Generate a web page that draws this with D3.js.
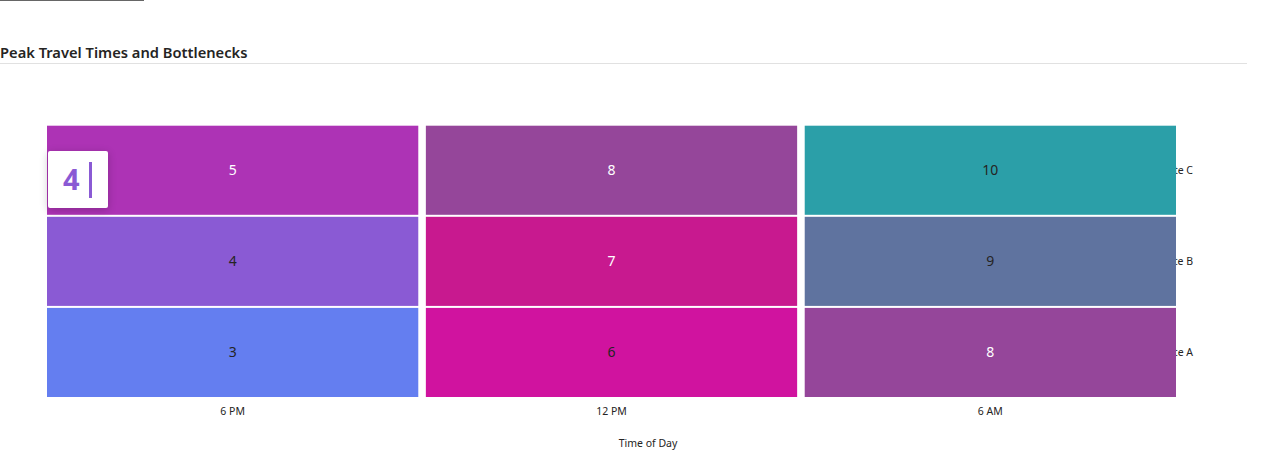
<!DOCTYPE html>
<html><head><meta charset="utf-8">
<script src="https://cdn.jsdelivr.net/npm/d3@7"></script>
<style>
html,body{margin:0;padding:0;background:#fff;width:1280px;height:454px;overflow:hidden;font-family:"Segoe UI","Noto Sans","Open Sans",sans-serif;}
#topbar{position:absolute;left:0;top:0;width:144px;height:1px;background:#666;}
#title{position:absolute;left:0;top:42px;font-size:14.7px;font-weight:600;color:#252423;white-space:nowrap;}
#rule{position:absolute;left:0;top:63px;width:1247px;height:1px;background:#e1e1e1;}
#chart{position:absolute;left:0;top:0;}
#tip{position:absolute;left:48px;top:151px;width:60px;height:57px;background:#fff;border-radius:2px;box-shadow:0 2px 8px rgba(0,0,0,0.22);}
#tip .v{position:absolute;left:15px;top:9px;font-size:29px;font-weight:700;color:#8A5AD4;font-family:"Noto Sans",sans-serif;line-height:38px;}
#tip .bar{position:absolute;left:41px;top:11px;width:3px;height:36px;background:#8A5AD4;}
</style></head>
<body>
<div id="topbar"></div>
<div id="title">Peak Travel Times and Bottlenecks</div>
<div id="rule"></div>
<svg id="chart" width="1280" height="454"></svg>
<div id="tip"><span class="v">4</span><span class="bar"></span></div>
<script>
const times = ["6 PM", "12 PM", "6 AM"];
const routes = ["Route A", "Route B", "Route C"];
const routeA = [3, 6, 8];
const routeB = [4, 7, 9];
const routeC = [5, 8, 10];
const colorValues = [3, 4, 5, 6, 7, 8, 9, 10];
const colorStops = ["#647ef0", "#8a5ad4", "#ad33b5", "#d0139f", "#c8198f", "#95469a", "#5f739f", "#2b9fa8"];
const labelStops = ["#252423", "#252423", "#ffffff", "#252423", "#ffffff", "#ffffff", "#252423", "#252423"];

const cells = [];
[routeA, routeB, routeC].forEach((arr, ri) => {
  arr.forEach((v, ti) => cells.push({route: routes[ri], time: times[ti], value: v}));
});

const svg = d3.select("#chart");
const x = d3.scaleBand().domain(times).range([47, 1176]).paddingInner(0.02);
const y = d3.scaleBand().domain(routes.slice().reverse()).range([125.7, 397]).paddingInner(0.022);
const color = d3.scaleOrdinal().domain(colorValues).range(colorStops);
const labelColor = d3.scaleOrdinal().domain(colorValues).range(labelStops);
const font = "'Segoe UI','Noto Sans',sans-serif";

// y labels (drawn under the cells)
svg.append("g").selectAll("text").data(routes).join("text")
  .attr("x", 1193).attr("y", d => y(d) + y.bandwidth() / 2)
  .attr("text-anchor", "end").attr("dominant-baseline", "central")
  .attr("font-size", 10.5).attr("fill", "#252423").attr("font-family", font)
  .text(d => d);

const g = svg.append("g");
g.selectAll("rect").data(cells).join("rect")
  .attr("x", d => x(d.time)).attr("y", d => y(d.route))
  .attr("width", x.bandwidth()).attr("height", y.bandwidth())
  .attr("fill", d => color(d.value));

g.selectAll("text").data(cells).join("text")
  .attr("x", d => x(d.time) + x.bandwidth() / 2)
  .attr("y", d => y(d.route) + y.bandwidth() / 2 - 1)
  .attr("text-anchor", "middle").attr("dominant-baseline", "central")
  .attr("font-size", 14).attr("font-family", font)
  .attr("fill", d => labelColor(d.value))
  .text(d => d.value);

// x axis
const xa = svg.append("g").attr("transform", "translate(0,397)")
  .call(d3.axisBottom(x).tickSize(0).tickPadding(11));
xa.select(".domain").remove();
xa.selectAll("text").attr("font-size", 10.5).attr("fill", "#252423").attr("font-family", font);

svg.append("text").attr("x", 648).attr("y", 447)
  .attr("text-anchor", "middle").attr("font-size", 10.5).attr("fill", "#252423")
  .attr("font-family", font)
  .text("Time of Day");
</script>
</body></html>
